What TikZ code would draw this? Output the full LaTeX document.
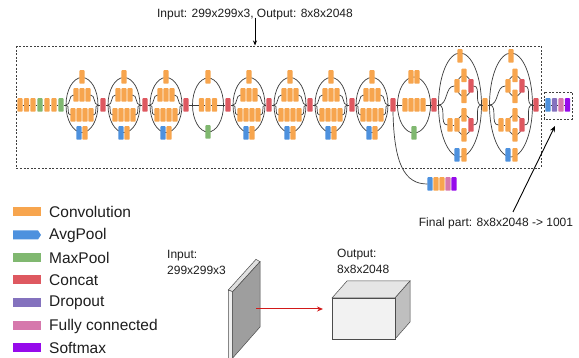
\documentclass[tikz,border=0pt]{standalone}
\usepackage{fontspec}
\setmainfont{Liberation Sans}
\usetikzlibrary{arrows.meta}
\definecolor{convc}{RGB}{247,165,78}
\definecolor{avgc}{RGB}{77,145,222}
\definecolor{maxc}{RGB}{128,184,112}
\definecolor{catc}{RGB}{222,88,96}
\definecolor{dropc}{RGB}{132,114,190}
\definecolor{fcc}{RGB}{214,120,172}
\definecolor{softc}{RGB}{150,10,235}
\definecolor{wirec}{RGB}{60,60,60}
\definecolor{txtc}{RGB}{30,30,30}
\definecolor{arrred}{RGB}{210,25,25}
\tikzset{
  blk/.style={rectangle, rounded corners=0.8pt, minimum width=5.2pt, minimum height=13.5pt, inner sep=0pt, outer sep=0pt},
  conv/.style={blk, fill=convc},
  avg/.style={blk, fill=avgc},
  maxp/.style={blk, fill=maxc},
  cat/.style={blk, fill=catc},
  drop/.style={blk, fill=dropc},
  fc/.style={blk, fill=fcc},
  soft/.style={blk, fill=softc},
  wire/.style={draw=wirec, line width=0.7pt},
  dashbox/.style={draw=black!75, line width=0.6pt, dash pattern=on 2pt off 1.6pt},
  lbl/.style={font=\fontsize{12}{14}\selectfont, inner sep=0pt, text=txtc},
  leg/.style={font=\fontsize{15.5}{18}\selectfont, inner sep=0pt, anchor=west, text=txtc},
  incA/.pic={
    \draw[wire] (0,0) ellipse [x radius=16pt, y radius=27.5pt];
    \coordinate (-L) at (-16,0);
    \coordinate (-R) at (16,0);
    \node[conv] (-t) at (0,-28) {};
    \node[conv] (-a1) at (-6,-10) {};
    \node[conv] (-a2) at (0,-10) {};
    \node[conv] (-a3) at (6,-10) {};
    \node[conv] (-b1) at (-9,10) {};
    \node[conv] (-b2) at (-3,10) {};
    \node[conv] (-b3) at (3,10) {};
    \node[conv] (-b4) at (9,10) {};
    \node[avg] (-p) at (-3,28) {};
    \node[conv] (-q) at (3,28) {};
    \draw[wire] (-L) to[out=0,in=180] (-a1.west);
    \draw[wire] (-L) to[out=0,in=180] (-b1.west);
    \draw[wire] (-a3.east) to[out=0,in=180] (-R);
    \draw[wire] (-b4.east) to[out=0,in=180] (-R);
  },
  redA/.pic={
    \draw[wire] (0,0) ellipse [x radius=15.5pt, y radius=27pt];
    \coordinate (-L) at (-15.5,0);
    \coordinate (-R) at (15.5,0);
    \node[conv] (-t) at (0,-28) {};
    \node[conv] (-a1) at (-6.5,0) {};
    \node[conv] (-a2) at (0,0) {};
    \node[conv] (-a3) at (6.5,0) {};
    \node[maxp] (-p) at (0,27) {};
    \draw[wire] (-L) -- (-a1.west) (-a1.east) -- (-a2.west) (-a2.east) -- (-a3.west) (-a3.east) -- (-R);
  },
  redB/.pic={
    \draw[wire] (0,0) ellipse [x radius=16.5pt, y radius=28pt];
    \coordinate (-L) at (-16.5,0);
    \coordinate (-R) at (16.5,0);
    \node[conv] (-t1) at (-3,-28) {};
    \node[conv] (-t2) at (3,-28) {};
    \node[conv] (-a1) at (-9,0) {};
    \node[conv] (-a2) at (-3,0) {};
    \node[conv] (-a3) at (3,0) {};
    \node[conv] (-a4) at (9,0) {};
    \node[maxp] (-p) at (0,28) {};
    \draw[wire] (-L) -- (-a1.west) (-a4.east) -- (-R);
  },
  incC/.pic={
    \draw[wire] (0,0) ellipse [x radius=21.5pt, y radius=52pt];
    \draw[wire] (4,-19) ellipse [x radius=7pt, y radius=10.5pt];
    \draw[wire] (4,20) ellipse [x radius=7pt, y radius=10pt];
    \coordinate (-L) at (-21.5,0);
    \coordinate (-R) at (21.5,0);
    \node[conv] (-t) at (0,-49) {};
    \node[conv] (-u0) at (-3,-19) {};
    \node[conv] (-u1) at (4,-29.5) {};
    \node[conv] (-u2) at (4,-8.5) {};
    \node[cat] (-uc) at (11,-19) {};
    \node[conv] (-l0) at (-10,20) {};
    \node[conv] (-l1) at (-3,20) {};
    \node[conv] (-l2) at (4,10) {};
    \node[conv] (-l3) at (4,30) {};
    \node[cat] (-lc) at (11,20) {};
    \node[avg] (-p) at (-3,50) {};
    \node[conv] (-q) at (4,50) {};
    \draw[wire] (-L) to[out=0,in=180] (-u0.west);
    \draw[wire] (-L) to[out=0,in=180] (-l0.west);
    \draw[wire] (-l0.east) -- (-l1.west);
    \draw[wire] (-uc.east) to[out=0,in=180] (-R);
    \draw[wire] (-lc.east) to[out=0,in=180] (-R);
  }
}
\begin{document}
\begin{tikzpicture}[x=1pt,y=-1pt]
\clip (0,0) rectangle (579,358);
\fill[white] (0,0) rectangle (579,358);

% title and main box
\node[lbl] (title) at (255,15) {Input: 299x299x3, Output: 8x8x2048};
\coordinate (boxtop) at (255,45.5);
\draw[line width=0.8pt, -{Stealth[length=5pt,width=4pt]}] (title.south) ++(0,-3) -- (boxtop);
\draw[dashbox] (16,46) rectangle (541,168);

% stem
\foreach \x/\s [count=\i] in {20/conv,26.5/conv,33/conv,40/maxp,47/conv,54/conv,61/maxp}
  \node[\s] (s\i) at (\x,105) {};
\foreach \i [evaluate=\i as \j using int(\i+1)] in {1,...,6}
  \draw[wire] (s\i.east) -- (s\j.west);

% modules
\pic (m1) at (82,105) {incA};
\node[cat] (c1) at (103,105) {};
\pic (m2) at (124,105) {incA};
\node[cat] (c2) at (145,105) {};
\pic (m3) at (166,105) {incA};
\node[cat] (c3) at (186,105) {};
\pic (m4) at (208,105) {redA};
\node[cat] (c4) at (228,105) {};
\pic (m5) at (249,105) {incA};
\node[cat] (c5) at (269,105) {};
\pic (m6) at (290,105) {incA};
\node[cat] (c6) at (310,105) {};
\pic (m7) at (331,105) {incA};
\node[cat] (c7) at (352,105) {};
\pic (m8) at (372,105) {incA};
\node[cat] (c8) at (393,105) {};
\pic (m9) at (414,105) {redB};
\node[cat] (c9) at (434,105) {};
\pic (m10) at (460,105) {incC};
\node[conv] (c10) at (485,105) {};
\pic (m11) at (511,105) {incC};
\node[cat] (c11) at (536,105) {};

\draw[wire] (s7.east) -- (m1-L);
\foreach \i in {1,...,11} \draw[wire] (m\i-R) -- (c\i.west);
\foreach \i [evaluate=\i as \j using int(\i+1)] in {1,...,10} \draw[wire] (c\i.east) -- (m\j-L);

% final part
\node[avg] (f1) at (548,105) {};
\node[drop] (f2) at (554.5,105) {};
\node[fc] (f3) at (561,105) {};
\node[soft] (f4) at (567.5,105) {};
\draw[wire] (c11.east) -- (f1.west) (f1.east) -- (f2.west) (f2.east) -- (f3.west) (f3.east) -- (f4.west);
\draw[dashbox] (544,92) rectangle (572.5,119);
\coordinate (finbox) at (555,126);

% auxiliary head
\node[avg] (a1) at (430,184) {};
\node[conv] (a2) at (436,184) {};
\node[conv] (a3) at (442,184) {};
\node[fc] (a4) at (448,184) {};
\node[soft] (a5) at (454,184) {};
\draw[wire] (c8.south) .. controls (394,165) and (405,184) .. (a1.west);

% final part label
\node[lbl] (finlbl) at (496,223) {Final part: 8x8x2048 -> 1001};
\coordinate (finstart) at (513,212);
\draw[line width=0.9pt, -{Stealth[length=6pt,width=5pt]}] (finstart) -- (finbox);

% legend
\fill[convc] (13,207.5) rectangle (41,216.5);
\node[leg] (lg1) at (49,212) {Convolution};
\fill[avgc] (13,230.5) -- (38,230.5) -- (41,235) -- (38,239.5) -- (13,239.5) -- cycle;
\node[leg] (lg2) at (49,235) {AvgPool};
\fill[maxc] (13,253.5) rectangle (41,262.5);
\node[leg] (lg3) at (49,258) {MaxPool};
\fill[catc] (13,275.5) rectangle (41,284.5);
\node[leg] (lg4) at (49,280) {Concat};
\fill[dropc] (13,298.5) rectangle (41,307.5);
\node[leg] (lg5) at (49,303) {Dropout};
\fill[fcc] (13,321.5) rectangle (41,330.5);
\node[leg] (lg6) at (49,326) {Fully connected};
\fill[softc] (13,343.5) rectangle (41,352.5);
\node[leg] (lg7) at (49,348) {Softmax};

% lower illustration
\node[lbl, anchor=west] (inl1) at (167,256) {Input:};
\node[lbl, anchor=west] (inl2) at (167,270) {299x299x3};
\node[lbl, anchor=west] (outl1) at (337,255) {Output:};
\node[lbl, anchor=west] (outl2) at (337,269) {8x8x2048};

% slab
\draw[draw=black!70, line width=0.5pt, fill=black!12] (228.3,290) -- (256,259.3) -- (260,261.7) -- (232.7,291.7) -- cycle;
\draw[draw=black!70, line width=0.5pt, fill=black!6] (228.3,290) -- (232.7,291.7) -- (232.7,365) -- (228.3,365) -- cycle;
\draw[draw=black!70, line width=0.5pt, fill=black!38] (232.7,291.7) -- (260,261.7) -- (260,327) -- (232.7,358) -- cycle;
\coordinate (slab) at (256,309);

% cube
\draw[draw=black!70, line width=0.5pt, fill=black!10] (332,298) -- (347,281) -- (410,281) -- (395,298) -- cycle;
\draw[draw=black!70, line width=0.5pt, fill=black!25] (395,298) -- (410,281) -- (410,322) -- (395,339) -- cycle;
\draw[draw=black!70, line width=0.5pt, fill=black!5] (332,298) rectangle (395,339);
\coordinate (cubein) at (323,309);
\draw[draw=arrred, line width=1pt, -{Stealth[length=6pt,width=5pt]}] (slab) -- (cubein);
\end{tikzpicture}
\end{document}
